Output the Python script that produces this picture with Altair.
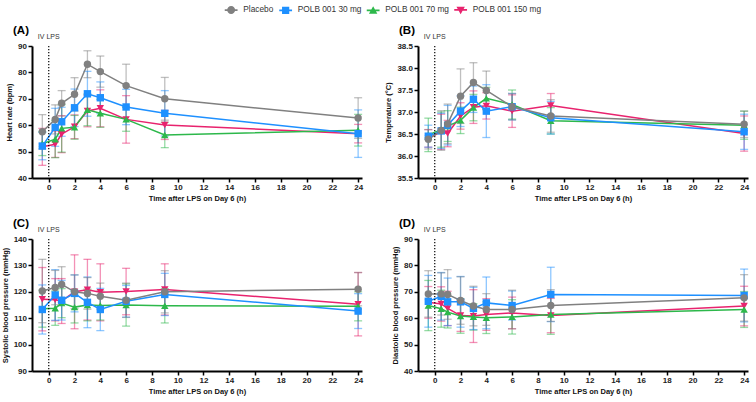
import altair as alt
import pandas as pd

# ---------------- data ----------------
TIME = [-0.5, 0.5, 1, 2, 3, 4, 6, 9, 24]
GROUPS = ["Placebo", "POLB 001 30 mg", "POLB 001 70 mg", "POLB 001 150 mg"]
COLORS = ["#808080", "#1E90FF", "#2DB84B", "#E8236E"]
SHAPES = ["circle", "square", "triangle-up", "triangle-down"]

X_TICKS = [0, 2, 4, 6, 8, 10, 12, 14, 16, 18, 20, 22, 24]

HR_MEAN = {
    "Placebo":         [57.5, 62.2, 68.3, 71.7, 83.1, 80.3, 75.0, 70.0, 62.7],
    "POLB 001 30 mg":  [52.1, 59.2, 61.3, 66.6, 71.9, 70.4, 66.9, 64.5, 56.8],
    "POLB 001 70 mg":  [53.0, 54.7, 58.8, 59.2, 65.8, 64.5, 62.2, 56.3, 58.1],
    "POLB 001 150 mg": [51.8, 52.8, 56.6, 59.4, 65.4, 66.4, 62.2, 60.1, 56.8],
}
HR_SD = {
    "Placebo":         [6.5, 5.5, 4.8, 6.3, 5.1, 5.9, 8.1, 8.1, 7.7],
    "POLB 001 30 mg":  [5.2, 7.2, 5.5, 7.1, 8.5, 6.0, 6.7, 8.6, 9.0],
    "POLB 001 70 mg":  [4.5, 7.0, 9.0, 4.5, 6.0, 5.3, 4.5, 4.8, 6.0],
    "POLB 001 150 mg": [7.0, 5.0, 7.0, 4.5, 6.0, 7.0, 9.0, 5.5, 3.5],
}
HR_TICKS = [40, 50, 60, 70, 80, 90]

TEMP_MEAN = {
    "Placebo":         [36.38, 36.58, 36.73, 37.36, 37.67, 37.49, 37.12, 36.91, 36.72],
    "POLB 001 30 mg":  [36.45, 36.57, 36.70, 37.02, 37.29, 37.02, 37.12, 36.87, 36.55],
    "POLB 001 70 mg":  [36.48, 36.60, 36.68, 36.81, 37.10, 37.31, 37.17, 36.80, 36.70],
    "POLB 001 150 mg": [36.40, 36.55, 36.51, 36.91, 37.11, 37.14, 37.02, 37.15, 36.51],
}
TEMP_SD = {
    "Placebo":         [0.22, 0.45, 0.45, 0.62, 0.45, 0.44, 0.30, 0.37, 0.30],
    "POLB 001 30 mg":  [0.25, 0.40, 0.45, 0.35, 0.30, 0.60, 0.30, 0.37, 0.40],
    "POLB 001 70 mg":  [0.38, 0.40, 0.35, 0.30, 0.30, 0.25, 0.33, 0.30, 0.32],
    "POLB 001 150 mg": [0.20, 0.40, 0.30, 0.30, 0.37, 0.30, 0.37, 0.27, 0.40],
}
TEMP_TICKS = [35.5, 36.0, 36.5, 37.0, 37.5, 38.0, 38.5]

SBP_MEAN = {
    "Placebo":         [120.3, 121.6, 122.8, 120.0, 119.4, 118.3, 116.8, 120.0, 121.0],
    "POLB 001 30 mg":  [113.3, 118.8, 116.8, 119.4, 116.0, 113.3, 116.4, 119.0, 112.7],
    "POLB 001 70 mg":  [113.6, 113.8, 115.7, 114.2, 115.0, 114.8, 115.0, 114.7, 114.5],
    "POLB 001 150 mg": [117.2, 117.0, 116.5, 120.0, 120.8, 119.8, 120.1, 120.9, 115.3],
}
SBP_SD = {
    "Placebo":         [12.0, 6.5, 6.7, 6.4, 6.0, 5.0, 6.5, 8.0, 6.3],
    "POLB 001 30 mg":  [9.3, 9.6, 7.5, 7.0, 9.6, 8.0, 6.0, 8.0, 6.6],
    "POLB 001 70 mg":  [7.0, 6.5, 5.5, 6.0, 6.0, 5.5, 8.0, 6.5, 5.5],
    "POLB 001 150 mg": [12.0, 8.0, 8.5, 14.0, 11.5, 10.8, 8.8, 9.7, 12.0],
}
SBP_TICKS = [90, 100, 110, 120, 130, 140]

DBP_MEAN = {
    "Placebo":         [69.2, 69.2, 69.0, 66.7, 64.6, 63.3, 63.3, 64.8, 67.7],
    "POLB 001 30 mg":  [66.4, 68.3, 66.2, 66.2, 63.7, 65.8, 64.8, 69.0, 68.6],
    "POLB 001 70 mg":  [64.8, 63.6, 62.3, 60.8, 60.5, 60.2, 60.5, 61.4, 63.3],
    "POLB 001 150 mg": [66.0, 65.4, 63.7, 61.0, 60.8, 61.4, 62.0, 61.0, 64.6],
}
DBP_SD = {
    "Placebo":         [8.8, 8.0, 9.4, 9.0, 7.5, 6.0, 7.3, 6.0, 8.8],
    "POLB 001 30 mg":  [9.8, 9.0, 9.0, 9.6, 8.0, 9.8, 5.5, 10.3, 10.0],
    "POLB 001 70 mg":  [9.5, 7.0, 6.0, 6.5, 5.0, 6.0, 6.5, 7.5, 6.8],
    "POLB 001 150 mg": [6.0, 6.5, 6.5, 6.0, 10.0, 6.0, 6.0, 6.5, 7.5],
}
DBP_TICKS = [40, 50, 60, 70, 80, 90]

# legend symbols: marker with a short line through it
BAR = "M-1.6,-0.22H1.6V0.22H-1.6Z "
LEGEND_SHAPES = [
    BAR + "M1,0A1,1,0,1,1,-1,0A1,1,0,1,1,1,0Z",
    BAR + "M-0.9,-0.9H0.9V0.9H-0.9Z",
    BAR + "M0,-1.05L1.05,0.8H-1.05Z",
    BAR + "M0,1.05L-1.05,-0.8H1.05Z",
]

FONT = "Liberation Sans"
W = 330
H = 132
X_TITLE = "Time after LPS on Day 6 (h)"


def make_df(mean, sd):
    rows = []
    for g in reversed(GROUPS):  # placebo drawn last (on top)
        for t, m, s in zip(TIME, mean[g], sd[g]):
            rows.append({"time": t, "grp": g, "mean": m, "lo": m - s, "hi": m + s})
    return pd.DataFrame(rows)


def panel(mean, sd, ydom, yticks, yfmt, ytitle, letter, legend=False):
    df = make_df(mean, sd)
    xs = alt.Scale(domain=[-1.3, 24.3], nice=False, zero=False)
    ys = alt.Scale(domain=ydom, nice=False, zero=False)
    color = alt.Color("grp:N", scale=alt.Scale(domain=GROUPS, range=COLORS), legend=None)
    shape = alt.Shape("grp:N", scale=alt.Scale(domain=GROUPS, range=SHAPES), legend=None)

    def xq():
        return alt.X("time:Q", scale=xs, title=X_TITLE,
                     axis=alt.Axis(values=X_TICKS, format="d", title=X_TITLE, titlePadding=2.5))

    def yq(field):
        return alt.Y(field, type="quantitative", scale=ys, title=ytitle,
                     axis=alt.Axis(values=yticks, format=yfmt, title=ytitle))

    base = alt.Chart(df)
    err = base.mark_rule(strokeWidth=1.3, opacity=0.5).encode(
        x=xq(), y=yq("lo"), y2="hi:Q", color=color)
    cap_hi = base.mark_tick(orient="horizontal", size=8, thickness=1.3, opacity=0.5).encode(
        x=xq(), y=yq("hi"), color=color)
    cap_lo = base.mark_tick(orient="horizontal", size=8, thickness=1.3, opacity=0.5).encode(
        x=xq(), y=yq("lo"), color=color)
    line = base.mark_line(strokeWidth=1.5).encode(x=xq(), y=yq("mean"), color=color)
    pts = base.mark_point(filled=True, size=55, opacity=1).encode(
        x=xq(), y=yq("mean"), color=color, shape=shape)

    lps = pd.DataFrame({"time": [0], "label": ["IV LPS"]})
    rule = alt.Chart(lps).mark_rule(strokeDash=[1.2, 1.8], color="black", strokeWidth=1.2).encode(x=xq())
    txt = alt.Chart(lps).mark_text(fontSize=7, color="#333333", baseline="middle", align="center",
                                   font=FONT).encode(x=xq(), y=alt.value(-9), text="label:N")
    lab = alt.Chart(pd.DataFrame({"label": [letter]})).mark_text(
        fontSize=11.5, fontWeight="bold", color="black", align="left", baseline="alphabetic", font=FONT
    ).encode(x=alt.value(-19), y=alt.value(-12), text="label:N")

    layers = [err, cap_hi, cap_lo, line, pts, rule, txt, lab]
    if legend:
        leg = alt.Legend(orient="none", legendX=195, legendY=-40.5, direction="horizontal",
                         columns=4, title=None, symbolSize=64, symbolOpacity=1,
                         symbolStrokeWidth=0, labelOffset=8, columnPadding=4.5,
                         labelFontSize=8.3, labelColor="#333333", labelFont=FONT, padding=0)
        ldf = pd.DataFrame({"leg": GROUPS})
        legl = alt.Chart(ldf).mark_point(filled=True, opacity=0).encode(
            color=alt.Color("leg:N", scale=alt.Scale(domain=GROUPS, range=COLORS), legend=leg),
            shape=alt.Shape("leg:N", scale=alt.Scale(domain=GROUPS, range=LEGEND_SHAPES), legend=leg),
        )
        layers.append(legl)

    ch = alt.layer(*layers).resolve_scale(color="independent", shape="independent").properties(
        width=W, height=H)
    return ch


pA = panel(HR_MEAN, HR_SD, [40, 90], HR_TICKS, "d", "Heart rate (bpm)", "(A)", legend=True)
pB = panel(TEMP_MEAN, TEMP_SD, [35.5, 38.5], TEMP_TICKS, ".1f", "Temperature (°C)", "(B)")
pC = panel(SBP_MEAN, SBP_SD, [90, 140], SBP_TICKS, "d", "Systolic blood pressure (mmHg)", "(C)")
pD = panel(DBP_MEAN, DBP_SD, [40, 90], DBP_TICKS, "d", "Diastolic blood pressure (mmHg)", "(D)")

chart = alt.concat(pA, pB, pC, pD, columns=2, spacing={"row": 61, "column": 56}, bounds="flush").resolve_scale(
    color="independent", shape="independent"
).properties(
    padding={"left": 1, "top": 5, "right": 2, "bottom": 4},
    background="white",
).configure(font=FONT).configure_view(stroke=None).configure_axis(
    domainColor="black", domainWidth=2, tickColor="black", tickWidth=1.5, tickSize=4,
    labelFont=FONT, labelFontSize=8, labelFontWeight="bold", labelColor="#222222", labelPadding=1.5,
    labelOverlap=False,
    titleFont=FONT, titleFontSize=7.5, titleFontWeight="bold", titleColor="#111111", titlePadding=4,
    grid=False,
)

chart.save("out.html", embed_options={"renderer": "svg", "actions": False})
